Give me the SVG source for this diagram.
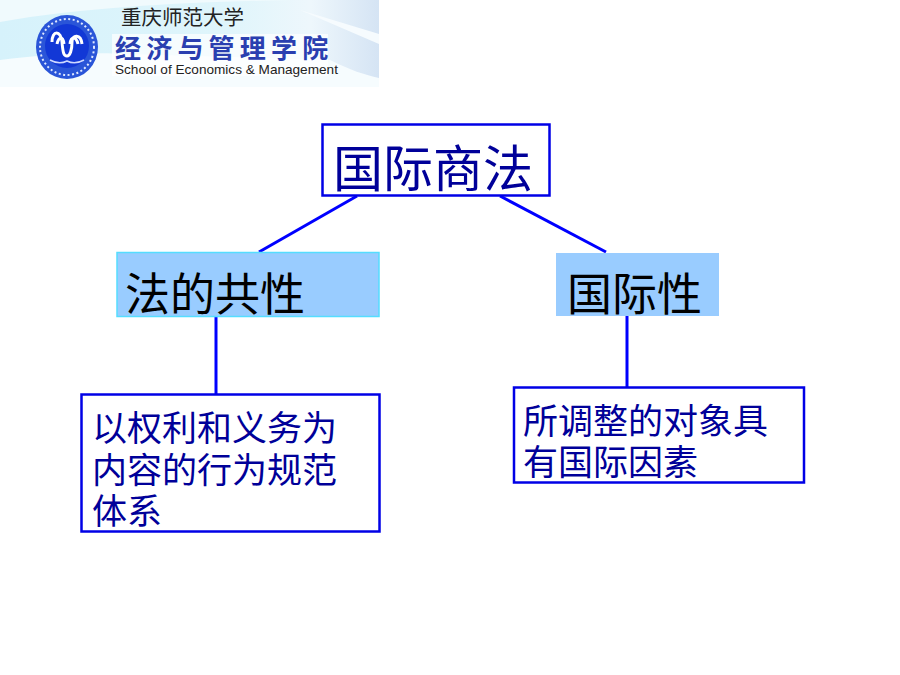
<svg xmlns="http://www.w3.org/2000/svg" width="900" height="675" viewBox="0 0 900 675">
<style>
.box{fill:#fff;stroke:#0000e6;stroke-width:2.5}
.fill{fill:#99ccff}
.t{font-family:"Noto Sans CJK SC","Liberation Sans",sans-serif}
.t49{font-size:50px;fill:#000099}
.t44{font-size:45px;fill:#000}
.t34{font-size:35px;fill:#000099}
.c{stroke:#0000ff;stroke-width:3;fill:none}
</style>
<defs>
<linearGradient id="bg" x1="0" y1="0" x2="1" y2="0">
<stop offset="0" stop-color="#d6f2fb"/><stop offset="0.6" stop-color="#dff5fb"/><stop offset="0.82" stop-color="#eef7fc"/><stop offset="1" stop-color="#d5e4f4"/>
</linearGradient>
</defs>
<rect width="900" height="675" fill="#fff"/>
<g id="logo">
<rect x="0" y="0" width="379" height="87" fill="url(#bg)"/>
<path d="M0 0H290C200 2 90 6 0 22Z" fill="#f0fafd"/>
<path d="M0 60C40 55 90 52 125 54L330 60C350 70 365 75 379 78V87H0Z" fill="#f6fcfe"/>
<path d="M300 10L379 34V44Z" fill="#f6fbfe"/>
<rect x="112" y="34" width="216" height="42" fill="#fff" opacity="0.7"/>
<ellipse cx="67" cy="47" rx="31" ry="32" fill="#2a55d8"/>
<ellipse cx="67" cy="47" rx="27" ry="28" fill="none" stroke="#dfe8ff" stroke-width="2" stroke-dasharray="2 2.500"/>
<circle cx="67" cy="46" r="22" fill="#1238d6"/>
<path d="M52 42c0-12 9-12 10 0s2 14 5 14 5-6 5-14 9-8 10 2M57 44c2-8 6-8 7 0M70 44c1-8 6-8 8 0" stroke="#fff" stroke-width="3" fill="none"/>
<path d="M50 60q9 5 17 1q8 4 17-1" stroke="#cdd8ff" stroke-width="1.500" fill="none"/>
<text x="121" y="25" font-size="20.500" fill="#222" class="t">重庆师范大学</text>
<text x="115" y="58" font-size="26" letter-spacing="5.200" fill="#2a3fb0" font-weight="700" class="t">经济与管理学院</text>
<text x="115" y="74" font-size="13.600" fill="#222" font-family="Liberation Sans, sans-serif">School of Economics &amp; Management</text>
</g>
<g id="connectors">
<line class="c" x1="357" y1="196" x2="259" y2="252"/>
<line class="c" x1="500" y1="196" x2="606" y2="252"/>
<line class="c" x1="216" y1="316" x2="216" y2="394"/>
<line class="c" x1="627" y1="316" x2="627" y2="387"/>
</g>
<g id="root">
<rect class="box" x="322.500" y="124.500" width="227" height="71"/>
<text x="333" y="187" class="t t49">国际商法</text>
</g>
<g id="left">
<rect class="fill" x="117" y="252.500" width="262" height="64" stroke="#55ddff" stroke-width="1.500"/>
<text x="125" y="311" class="t t44">法的共性</text>
</g>
<g id="right">
<rect class="fill" x="556" y="253" width="163" height="63"/>
<text x="567" y="311" class="t t44">国际性</text>
</g>
<g id="left-detail">
<rect class="box" x="81.500" y="394.500" width="298" height="137"/>
<text class="t t34" x="92" y="441">以权利和义务为</text>
<text class="t t34" x="92" y="483">内容的行为规范</text>
<text class="t t34" x="92" y="524">体系</text>
</g>
<g id="right-detail">
<rect class="box" x="514" y="387.500" width="290" height="95"/>
<text class="t t34" x="523" y="434">所调整的对象具</text>
<text class="t t34" x="523" y="475">有国际因素</text>
</g>
</svg>
